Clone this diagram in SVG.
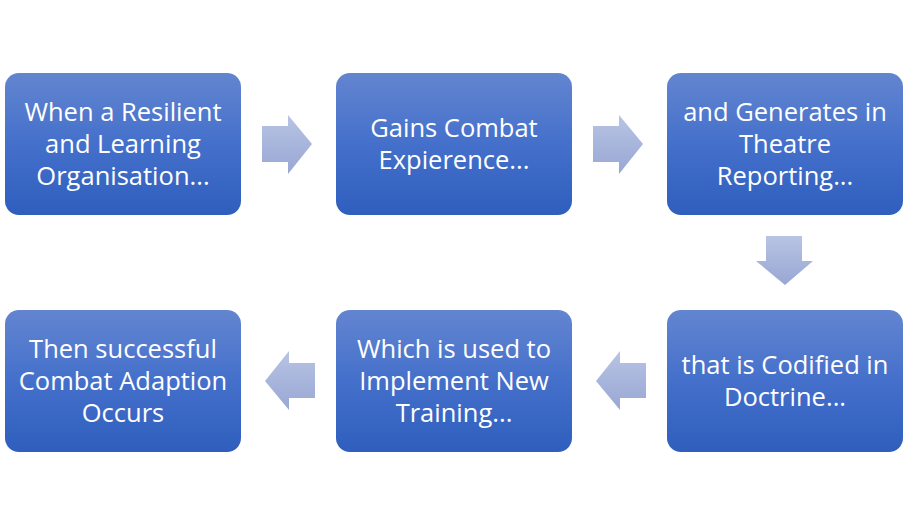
<svg xmlns="http://www.w3.org/2000/svg" width="913" height="525" viewBox="0 0 913 525">
<defs>
<linearGradient id="boxg" x1="0" y1="0" x2="0" y2="1">
<stop offset="0" stop-color="#6385d0"/>
<stop offset="0.5" stop-color="#4470cb"/>
<stop offset="1" stop-color="#2f5ebd"/>
</linearGradient>
<linearGradient id="arrg" x1="0" y1="0" x2="0" y2="1">
<stop offset="0" stop-color="#b8c4e4"/>
<stop offset="1" stop-color="#98a7d4"/>
</linearGradient>
<style>
.box{fill:url(#boxg);}
.arr{fill:url(#arrg);}
text{font-family:"Open Sans",Lato,sans-serif;font-size:25.5px;fill:#ffffff;text-anchor:middle;}
</style>
</defs>
<rect width="913" height="525" fill="#ffffff"/>
<g id="connectors">
<polygon class="arr" points="262,126 288,126 288,115 312,144 288,174 288,162 262,162"/>
<polygon class="arr" points="593,126 619,126 619,115 643,144 619,174 619,162 593,162"/>
<polygon class="arr" points="766,236 802,236 802,261 813,261 785,285 756,261 766,261"/>
<polygon class="arr" points="646,363 620,363 620,351 596,381 620,410 620,398 646,398"/>
<polygon class="arr" points="315,363 289,363 289,351 265,381 289,410 289,398 315,398"/>
</g>
<g id="n1"><rect class="box" x="5" y="73" width="236" height="142" rx="14"/>
<text x="123" y="121">When a Resilient</text><text x="123" y="153">and Learning</text><text x="123" y="185">Organisation...</text></g>
<g id="n2"><rect class="box" x="336" y="73" width="236" height="142" rx="14"/>
<text x="454" y="137">Gains Combat</text><text x="454" y="169">Expierence...</text></g>
<g id="n3"><rect class="box" x="667" y="73" width="236" height="142" rx="14"/>
<text x="785" y="121">and Generates in</text><text x="785" y="153">Theatre</text><text x="785" y="185">Reporting...</text></g>
<g id="n4"><rect class="box" x="667" y="310" width="236" height="142" rx="14"/>
<text x="785" y="374">that is Codified in</text><text x="785" y="406">Doctrine...</text></g>
<g id="n5"><rect class="box" x="336" y="310" width="236" height="142" rx="14"/>
<text x="454" y="358">Which is used to</text><text x="454" y="390">Implement New</text><text x="454" y="422">Training...</text></g>
<g id="n6"><rect class="box" x="5" y="310" width="236" height="142" rx="14"/>
<text x="123" y="358">Then successful</text><text x="123" y="390">Combat Adaption</text><text x="123" y="422">Occurs</text></g>
</svg>
